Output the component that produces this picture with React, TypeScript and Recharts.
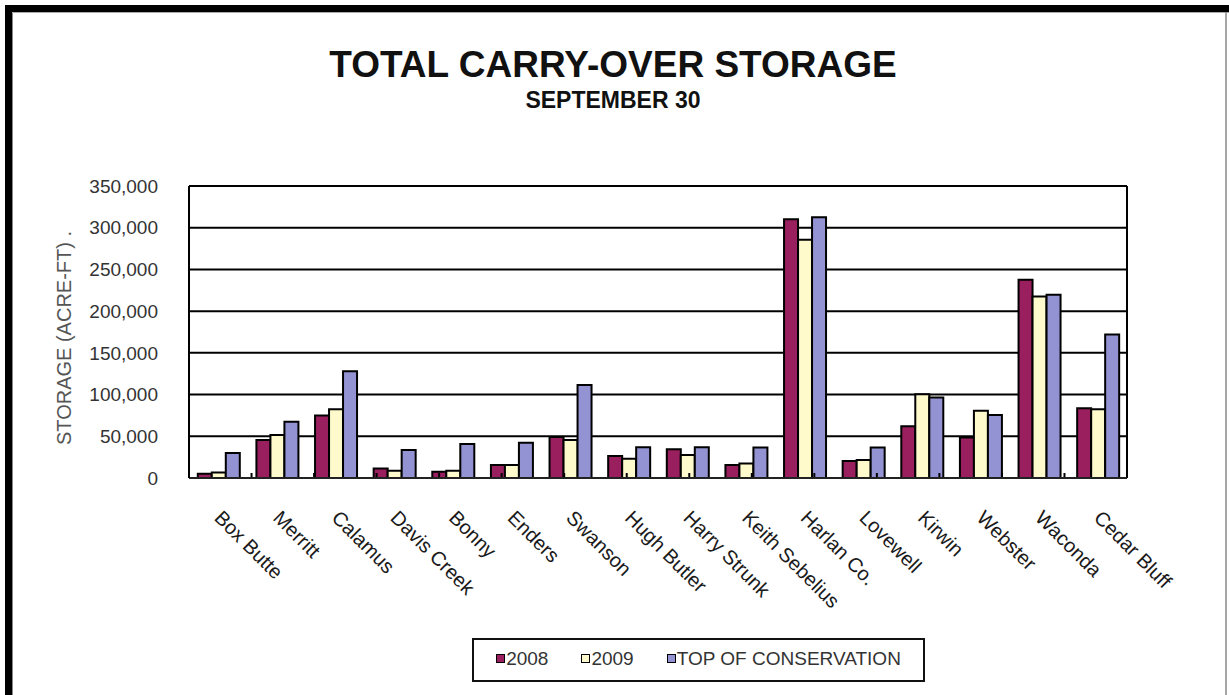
import React from 'react';
import { BarChart, Bar, XAxis, YAxis, CartesianGrid, ReferenceLine } from 'recharts';

// Reservoirs, in the order they appear along the axis
const reservoirs = [
  'Box Butte', 'Merritt', 'Calamus', 'Davis Creek', 'Bonny', 'Enders', 'Swanson', 'Hugh Butler',
  'Harry Strunk', 'Keith Sebelius', 'Harlan Co.', 'Lovewell', 'Kirwin', 'Webster', 'Waconda', 'Cedar Bluff',
];

// Storage on September 30 (acre-feet)
const storage2008 = [5000, 45500, 75000, 11500, 7500, 15500, 49000, 26500, 34500, 15500, 310000, 20500, 62000, 48500, 237500, 83500];
const storage2009 = [6500, 51500, 82500, 8800, 8800, 15500, 45500, 23000, 27500, 17500, 285500, 21500, 100500, 80500, 217500, 82500];
const topOfConservation = [30000, 67500, 128000, 33500, 40800, 42300, 111500, 37000, 37000, 36500, 312500, 36500, 96500, 75500, 219500, 172000];

const yTicks = [0, 50000, 100000, 150000, 200000, 250000, 300000, 350000];

const series = [
  { key: 'y2008', name: '2008', color: '#991f5f' },
  { key: 'y2009', name: '2009', color: '#fffacc' },
  { key: 'toc', name: 'TOP OF CONSERVATION', color: '#9393d3' },
];

const data = reservoirs.map((name, i) => ({
  name,
  y2008: storage2008[i],
  y2009: storage2009[i],
  toc: topOfConservation[i],
}));

// category boundaries (between neighbouring reservoirs) and the height of their tick marks
const boundaries = reservoirs.slice(1).map((_, i) => i + 1);
const boundaryTickHeight = 6000;

const FONT = '"Liberation Sans", Arial, sans-serif';
const W = 1229;
const H = 695;

const fmt = (v: number) => v.toLocaleString('en-US');

const CategoryTick = (props: any) => {
  const { x, y, payload } = props;
  const tx = x - 5;
  return (
    <text
      x={tx}
      y={y}
      transform={`rotate(45 ${tx} ${y})`}
      textAnchor="start"
      fontSize={20}
      fontFamily={FONT}
      fill="#1a1a1a"
    >
      {payload.value}
    </text>
  );
};

const YTitle = (props: any) => {
  const vb = props.viewBox || { y: 186, height: 292 };
  const cx = 71;
  const cy = vb.y + vb.height / 2 + 6;
  return (
    <text
      x={cx}
      y={cy}
      transform={`rotate(-90 ${cx} ${cy})`}
      textAnchor="middle"
      fontSize={20}
      fontFamily={FONT}
      fill="#555"
    >
      STORAGE (ACRE-FT) .
    </text>
  );
};

export default function App() {
  return (
    <div style={{ position: 'absolute', left: 0, top: 0, width: W, height: H, background: '#fff', overflow: 'hidden' }}>
      <BarChart
        width={W}
        height={H}
        data={data}
        margin={{ top: 186, right: 102, left: 89, bottom: 97 }}
        barCategoryGap="15%"
        barGap={0}
      >
        <CartesianGrid
          horizontal
          vertical
          verticalCoordinatesGenerator={({ offset }: any) => [offset.left, offset.left + offset.width]}
          stroke="#000"
          strokeWidth={2}
          strokeOpacity={1}
        />
        <XAxis
          dataKey="name"
          interval={0}
          height={120}
          tickLine={false}
          tickSize={0}
          tickMargin={41}
          axisLine={{ stroke: '#222', strokeWidth: 2 }}
          tick={<CategoryTick />}
        />
        {/* continuous companion axis used to place marks on category boundaries */}
        <XAxis
          xAxisId="bounds"
          type="number"
          domain={[0, reservoirs.length]}
          height={0}
          hide
        />
        <YAxis
          width={100}
          domain={[0, 350000]}
          ticks={yTicks}
          interval={0}
          tickFormatter={fmt}
          tickLine={false}
          tickSize={0}
          tickMargin={31}
          axisLine={{ stroke: '#000', strokeWidth: 2 }}
          tick={{ fontSize: 19, fontFamily: FONT, fill: '#333' }}
          label={<YTitle />}
        />
        {boundaries.map((b) => (
          <ReferenceLine
            key={b}
            xAxisId="bounds"
            segment={[{ x: b, y: 0 }, { x: b, y: boundaryTickHeight }]}
            stroke="#000"
            strokeWidth={2}
          />
        ))}
        {series.map((s) => (
          <Bar
            key={s.key}
            dataKey={s.key}
            name={s.name}
            fill={s.color}
            stroke="#000"
            strokeWidth={2}
            isAnimationActive={false}
          />
        ))}
      </BarChart>

      <svg
        width={W}
        height={H}
        style={{ position: 'absolute', left: 0, top: 0, pointerEvents: 'none' }}
      >
        {/* page frame */}
        <rect x={5} y={5} width={W - 5} height={7} fill="#000" />
        <rect x={5} y={5} width={7} height={H - 5} fill="#000" />
        <line x1={12.5} y1={12} x2={12.5} y2={H} stroke="#888" strokeWidth={1} />
        <line x1={12} y1={12.5} x2={W} y2={12.5} stroke="#aaa" strokeWidth={1} />
        <line x1={1226} y1={12} x2={1226} y2={H} stroke="#888" strokeWidth={1.5} />

        <text x={613} y={77} textAnchor="middle" fontSize={37} fontWeight="bold" fontFamily={FONT} fill="#111">
          TOTAL CARRY-OVER STORAGE
        </text>
        <text x={613} y={108} textAnchor="middle" fontSize={23} fontWeight="bold" fontFamily={FONT} fill="#111">
          SEPTEMBER 30
        </text>
      </svg>

      <div
        style={{
          position: 'absolute',
          left: 472,
          top: 638,
          width: 453,
          height: 44,
          boxSizing: 'border-box',
          border: '2px solid #111',
          background: '#fff',
          display: 'flex',
          alignItems: 'center',
          justifyContent: 'center',
          gap: 33,
          paddingBottom: 4,
          fontFamily: FONT,
          fontSize: 19,
          color: '#333',
        }}
      >
        {series.map((s) => (
          <div key={s.key} style={{ display: 'flex', alignItems: 'center' }}>
            <span
              style={{
                display: 'inline-block',
                width: 7,
                height: 7,
                background: s.color,
                border: '1px solid #000',
                marginRight: 1,
              }}
            />
            <span style={{ lineHeight: 1 }}>{s.name}</span>
          </div>
        ))}
      </div>
    </div>
  );
}
